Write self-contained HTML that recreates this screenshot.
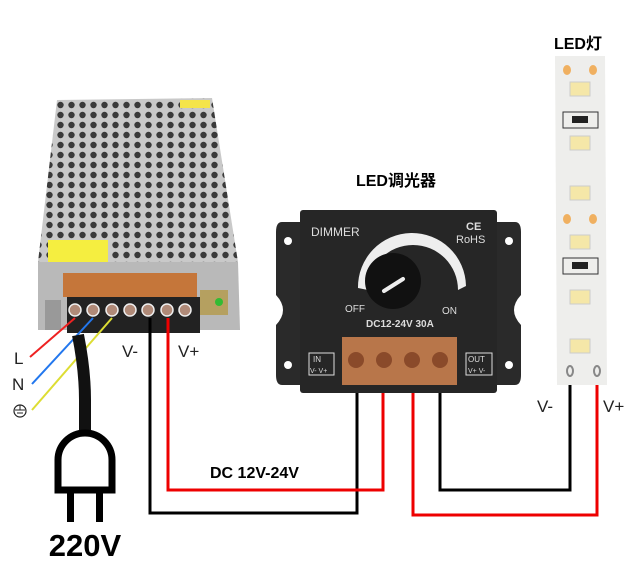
<!DOCTYPE html><html><head><style>body{margin:0;background:#fff}svg{display:block}</style></head><body>
<svg width="644" height="585" viewBox="0 0 644 585" xmlns="http://www.w3.org/2000/svg" font-family="Liberation Sans, Noto Sans CJK SC, sans-serif">
<defs>
<pattern id="holes" width="11" height="10" patternUnits="userSpaceOnUse"><rect width="11" height="10" fill="#c9c9c9"/><circle cx="5.5" cy="5" r="3.2" fill="#3a3a3a"/></pattern>
</defs>
<!-- PSU -->
<polygon points="57,100 212,98 238,262 38,262" fill="url(#holes)"/>
<rect x="180" y="100" width="30" height="8" fill="#f5e44a"/>
<rect x="48" y="240" width="60" height="22" fill="#f5ee40"/>
<polygon points="38,262 238,262 240,330 38,330" fill="#b9b9b9"/>
<rect x="63" y="273" width="134" height="24" fill="#c5763a"/>
<rect x="67" y="297" width="133" height="36" fill="#222"/>
<g fill="#b08a78" stroke="#eee" stroke-width="1.5">
<circle cx="75" cy="310" r="6"/><circle cx="93" cy="310" r="6"/><circle cx="112" cy="310" r="6"/><circle cx="130" cy="310" r="6"/><circle cx="148" cy="310" r="6"/><circle cx="167" cy="310" r="6"/><circle cx="185" cy="310" r="6"/></g>
<rect x="45" y="300" width="16" height="30" fill="#999"/>
<rect x="200" y="290" width="28" height="25" fill="#b5a060"/>
<circle cx="219" cy="302" r="4" fill="#3b3"/>
<!-- AC wires -->
<line x1="30" y1="357" x2="75" y2="318" stroke="#e22" stroke-width="2"/>
<line x1="32" y1="384" x2="93" y2="318" stroke="#27e" stroke-width="2"/>
<line x1="32" y1="410" x2="112" y2="318" stroke="#dd3" stroke-width="2"/>
<text x="14" y="364" font-size="17" fill="#222">L</text>
<text x="12" y="390" font-size="17" fill="#222">N</text>
<circle cx="20" cy="411" r="6" fill="none" stroke="#222" stroke-width="1.2"/>
<line x1="20" y1="405" x2="20" y2="410" stroke="#222"/><line x1="15" y1="410" x2="25" y2="410" stroke="#222"/><line x1="17" y1="413" x2="23" y2="413" stroke="#222"/>
<!-- cable & plug -->
<path d="M78,335 Q85,370 85,400 L85,432" stroke="#111" stroke-width="12" fill="none"/>
<path d="M58,490 V460 A27,27 0 0 1 112,460 V490 Z" fill="none" stroke="#000" stroke-width="7"/>
<rect x="67" y="490" width="7" height="32" fill="#000"/><rect x="96" y="490" width="7" height="32" fill="#000"/>
<text x="85" y="556" font-size="31" font-weight="bold" text-anchor="middle">220V</text>
<!-- DC wires -->
<path d="M150,318 V513 H357 V385" stroke="#000" stroke-width="3" fill="none"/>
<path d="M168,318 V490 H383 V385" stroke="#e00" stroke-width="3" fill="none"/>
<path d="M413,385 V515 H597 V375" stroke="#e00" stroke-width="3" fill="none"/>
<path d="M440,385 V490 H570 V375" stroke="#000" stroke-width="3" fill="none"/>
<text x="122" y="357" font-size="17" fill="#222">V-</text>
<text x="178" y="357" font-size="17" fill="#222">V+</text>
<text x="210" y="478" font-size="16" font-weight="bold">DC 12V-24V</text>
<text x="537" y="412" font-size="17" fill="#222">V-</text>
<text x="603" y="412" font-size="17" fill="#222">V+</text>
<!-- dimmer -->
<path d="M282,222 H300 V385 H282 Q276,385 276,375 V325 Q290,310 276,295 V232 Q276,222 282,222 Z" fill="#2a2a2a"/>
<path d="M515,222 H497 V385 H515 Q521,385 521,375 V325 Q507,310 521,295 V232 Q521,222 515,222 Z" fill="#2a2a2a"/>
<circle cx="288" cy="241" r="4" fill="#fff"/><circle cx="288" cy="365" r="4" fill="#fff"/>
<circle cx="509" cy="241" r="4" fill="#fff"/><circle cx="509" cy="365" r="4" fill="#fff"/>
<rect x="300" y="210" width="197" height="183" rx="3" fill="#262626"/>
<text x="311" y="236" font-size="12" fill="#ddd">DIMMER</text>
<text x="466" y="230" font-size="11" font-weight="bold" fill="#ddd">CE</text>
<text x="456" y="243" font-size="11" fill="#ddd">RoHS</text>
<path d="M358,288 A42,42 0 0 1 466,286 L458,290 A36,36 0 0 0 368,290 Z" fill="#eee"/>
<circle cx="393" cy="281" r="28" fill="#111"/>
<line x1="384" y1="291" x2="403" y2="279" stroke="#eee" stroke-width="4" stroke-linecap="round"/>
<text x="345" y="312" font-size="10" fill="#ddd">OFF</text>
<text x="442" y="314" font-size="10" fill="#ddd">ON</text>
<text x="366" y="327" font-size="10" font-weight="bold" fill="#ddd">DC12-24V 30A</text>
<rect x="342" y="337" width="115" height="48" fill="#b8764a"/>
<g fill="#8a4a2a"><circle cx="356" cy="360" r="8"/><circle cx="384" cy="360" r="8"/><circle cx="412" cy="360" r="8"/><circle cx="440" cy="360" r="8"/></g>
<rect x="309" y="353" width="25" height="22" fill="none" stroke="#ddd"/>
<text x="313" y="362" font-size="8" fill="#ddd">IN</text><text x="310" y="373" font-size="7" fill="#ddd">V- V+</text>
<rect x="466" y="353" width="26" height="22" fill="none" stroke="#ddd"/>
<text x="468" y="362" font-size="8" fill="#ddd">OUT</text><text x="468" y="373" font-size="7" fill="#ddd">V+ V-</text>
<text x="396" y="186" font-size="16" font-weight="bold" text-anchor="middle">LED调光器</text>
<!-- LED strip -->
<text x="578" y="49" font-size="16" font-weight="bold" text-anchor="middle">LED灯</text>
<polygon points="555,56 605,56 607,385 557,385" fill="#eeeeec"/>
<g fill="#f5e7a8" stroke="#ccc"><rect x="570" y="82" width="20" height="14"/><rect x="570" y="136" width="20" height="14"/><rect x="570" y="186" width="20" height="14"/><rect x="570" y="235" width="20" height="14"/><rect x="570" y="290" width="20" height="14"/><rect x="570" y="339" width="20" height="14"/></g>
<g fill="#f0b060"><ellipse cx="567" cy="70" rx="4" ry="5"/><ellipse cx="593" cy="70" rx="4" ry="5"/><ellipse cx="567" cy="219" rx="4" ry="5"/><ellipse cx="593" cy="219" rx="4" ry="5"/></g>
<rect x="563" y="112" width="35" height="16" fill="none" stroke="#333"/><rect x="572" y="116" width="16" height="7" fill="#222"/>
<rect x="563" y="258" width="35" height="16" fill="none" stroke="#333"/><rect x="572" y="262" width="16" height="7" fill="#222"/>
<ellipse cx="570" cy="371" rx="3" ry="5" fill="none" stroke="#888" stroke-width="2"/>
<ellipse cx="597" cy="371" rx="3" ry="5" fill="none" stroke="#888" stroke-width="2"/>
</svg>
</body></html>
